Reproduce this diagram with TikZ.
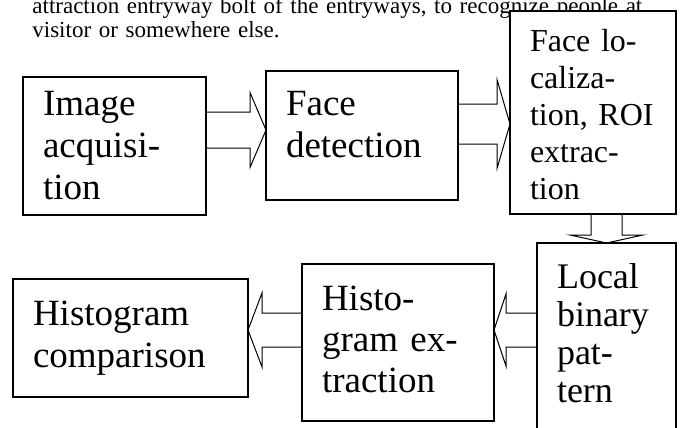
\documentclass[tikz,border=0pt]{standalone}
\usepackage{fontspec}
\setmainfont{Liberation Serif}
\usetikzlibrary{calc}

\begin{document}
\begin{tikzpicture}[x=0.5pt,y=-0.5pt,
    stage/.style={draw,fill=white,line width=0.7pt,anchor=north west,
      inner xsep=10pt,inner ysep=0pt,outer sep=0pt,align=left,
      font=\fontsize{18.5pt}{21pt}\selectfont},
    hollow/.style n args={3}{line width=0.5pt,to path={
      ($(\tikztostart)!#1!90:(\tikztotarget)$)
      -- ($(\tikztotarget)!#3!(\tikztostart)!#1!-90:(\tikztostart)$)
      -- ($(\tikztotarget)!#3!(\tikztostart)!#2!-90:(\tikztostart)$)
      -- (\tikztotarget)
      -- ($(\tikztotarget)!#3!(\tikztostart)!#2!90:(\tikztostart)$)
      -- ($(\tikztotarget)!#3!(\tikztostart)!#1!90:(\tikztostart)$)
      -- ($(\tikztostart)!#1!-90:(\tikztotarget)$)}}]
    \useasboundingbox (0,0) rectangle (680,428);

    % running text above the chart
    \node[anchor=base west,inner sep=0pt,text width=320.5pt,align=left,
      font=\fontsize{11.5pt}{12pt}\selectfont] (intro) at (32,13)
      {\makebox[\linewidth][s]{attraction entryway bolt of the entryways, to recognize people at}\\
       visitor or somewhere else.};

    % processing stages
    \node[stage,text width=71.5pt,text height=19pt,text depth=50pt] (img) at (23,77)
      {Image\\acquisi-\\tion};
    \node[stage,text width=76pt,text height=22pt,text depth=42.5pt] (det) at (266,71)
      {Face\\detection};
    \node[stage,text width=63pt,text height=20pt,text depth=81.5pt,
      font=\fontsize{16pt}{18.5pt}\selectfont] (roi) at (510,11)
      {Face lo-\\caliza-\\tion, ROI\\extrac-\\tion};
    \node[stage,text width=49.5pt,text height=22.5pt,text depth=72pt,
      font=\fontsize{18pt}{19pt}\selectfont] (lbp) at (537,243)
      {Local\\binary\\pat-\\tern};
    \node[stage,text width=76pt,text height=23pt,text depth=55.5pt,
      font=\fontsize{18.5pt}{20.5pt}\selectfont] (hist) at (302,264)
      {Histo-\\\makebox[82.5pt][s]{gram ex-}\\traction};
    \node[stage,text width=97.5pt,text height=23pt,text depth=36pt] (cmp) at (13,279)
      {Histogram\\comparison};

    % hollow block arrows between the stages
    \draw[hollow={9pt}{18.75pt}{8pt}] (img.east |- 0,130) to (det.west |- 0,130);
    \draw[hollow={10pt}{22.25pt}{6.5pt}] (det.east |- 0,124) to (roi.west |- 0,124);
    \draw[hollow={7.75pt}{18.25pt}{4pt}] (roi.south -| 606.5,0) to (lbp.north -| 606.5,0);
    \draw[hollow={8.5pt}{18pt}{6pt}] (lbp.west |- 0,330) to (hist.east |- 0,330);
    \draw[hollow={8.5pt}{18.5pt}{7pt}] (hist.west |- 0,330) to (cmp.east |- 0,330);
\end{tikzpicture}
\end{document}
